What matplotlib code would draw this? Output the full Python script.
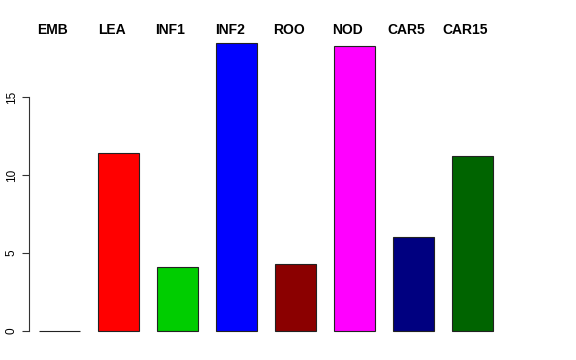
import numpy as np
import matplotlib
matplotlib.use('Agg')
import matplotlib.pyplot as plt

plt.rcParams['font.family'] = ['Liberation Sans', 'DejaVu Sans']

labels = ['EMB', 'LEA', 'INF1', 'INF2', 'ROO', 'NOD', 'CAR5', 'CAR15']
values = [0.0, 11.4, 4.1, 18.45, 4.3, 18.3, 6.0, 11.2]
colors = ['black', '#FF0000', '#00CD00', '#0000FF', '#8B0000', '#FF00FF', '#000080', '#006400']

W, H = 576, 360
fig = plt.figure(figsize=(W / 100, H / 100), dpi=100)
ax = fig.add_axes([0, 0, 1, 1])

# pixel geometry
px_x = 59.0      # pixels per bar slot
x0_px = 59.5     # centre of first bar
px_y = 15.6      # pixels per unit
y0_px = 29.0     # zero line, from bottom

ax.set_xlim(-x0_px / px_x, (W - x0_px) / px_x)
ax.set_ylim(-y0_px / px_y, (H - y0_px) / px_y)

x = np.arange(len(labels))
ax.bar(x, values, width=41 / px_x, color=colors, edgecolor='#222222', linewidth=0.8)

for xi, lab in zip(x, labels):
    ax.text(xi - 7 / px_x, (H - 30 - y0_px) / px_y, lab, ha='center', va='center',
            fontsize=10, fontweight='bold')

for s in ['top', 'right', 'bottom']:
    ax.spines[s].set_visible(False)
ax.spines['left'].set_position(('data', (29 - x0_px) / px_x))
ax.spines['left'].set_bounds(0, 15)
ax.spines['left'].set_linewidth(0.8)
ax.spines['left'].set_color('#333333')
ax.set_xticks([])
ax.set_yticks([0, 5, 10, 15])
ax.tick_params(axis='y', length=5, width=0.8, color='#333333', labelsize=8.5, pad=3)
for t in ax.get_yticklabels():
    t.set_rotation(90)
    t.set_va('center')

fig.savefig('out.png', dpi=100)
